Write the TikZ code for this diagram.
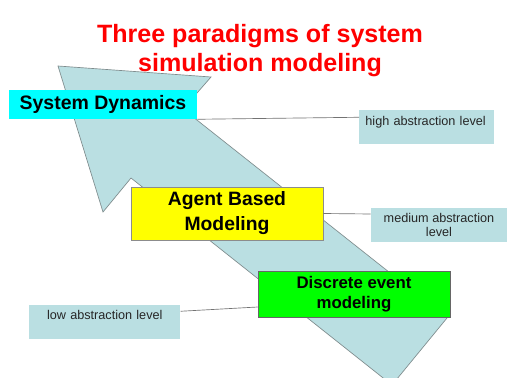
\documentclass[tikz,border=0pt]{standalone}
\usepackage{fontspec}
\setmainfont{Liberation Sans}
\definecolor{arrowblue}{HTML}{BADFE2}
\definecolor{edgegrey}{HTML}{7F8C8D}
\definecolor{sdcyan}{HTML}{00FFFF}
\definecolor{abmyellow}{HTML}{FFFF00}
\definecolor{demgreen}{HTML}{00FF00}
\definecolor{titlered}{HTML}{FF0000}
\begin{document}
\begin{tikzpicture}[x=0.75pt, y=-0.75pt,
	paradigm/.style={draw=black!45, align=center, inner sep=0pt},
	level/.style={fill=arrowblue, text=black!85, inner sep=0pt, font=\fontsize{9.5}{10.7}\selectfont},
	link/.style={draw=black!55, line width=0.5pt}]
					\clip (0,0) rectangle (507,378);
					\fill[white] (0,0) rectangle (507,378);
					
					% the big arrow
					\draw[fill=arrowblue, draw=edgegrey, line width=0.5pt] (58,66) -- (211,77) -- (183,109) -- (447,318) -- (392,385) -- (131,178) -- (103,212) -- cycle;
					
					\node[text=titlered, align=center, inner sep=0pt, font=\fontsize{18.8}{21.75}\selectfont\bfseries] (title) at (260,51) {Three paradigms of system\\simulation modeling};
					
					\node[paradigm, fill=sdcyan, draw=none, minimum width=141pt, minimum height=21.75pt, font=\fontsize{14.6}{17}\selectfont\bfseries] (sd) at (103,104.5) {System Dynamics};
					\node[paradigm, fill=abmyellow, minimum width=144pt, minimum height=39.75pt, font=\fontsize{14.5}{18.75}\selectfont\bfseries] (abm) at (227,213.5) {Agent Based\\Modeling};
					\node[paradigm, fill=demgreen, draw=black!60, minimum width=144pt, minimum height=34.5pt, font=\fontsize{12.6}{15}\selectfont\bfseries] (dem) at (354,294) {Discrete event\\modeling};
					
					\node[level, anchor=north west, inner xsep=4.6pt, text width=92pt, text height=11.25pt, text depth=14.25pt, align=left] (high) at (359,110) {high abstraction level};
					\node[level, minimum width=102pt, minimum height=25.5pt, align=center] (med) at (439,225) {medium abstraction\\level};
					\node[level, anchor=north west, text width=113.25pt, text height=10.5pt, text depth=15pt, align=center] (low) at (29,305) {low abstraction level};
					
					\draw[link] (sd.south east) -- ([yshift=7.5pt]high.west);
					\draw[link] (abm.east) -- ([yshift=8.25pt]med.west);
					\draw[link] ([yshift=-9.75pt]dem.west) -- ([yshift=8.25pt]low.east);
					
\end{tikzpicture}
\end{document}
